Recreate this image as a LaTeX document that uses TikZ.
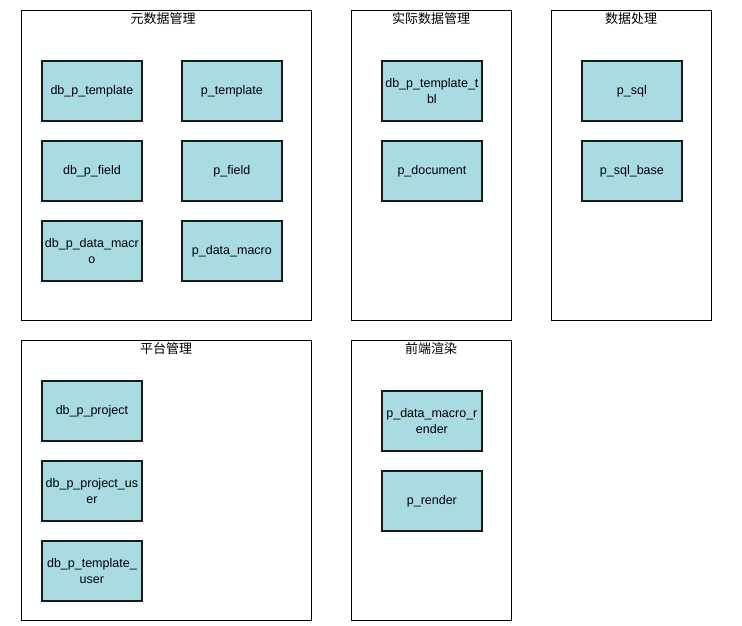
\documentclass[tikz,border=0pt]{standalone}
\usepackage{fontspec}
\setmainfont{Liberation Sans}
\newfontfamily\cjk{Noto Sans CJK SC}
\definecolor{boxfill}{HTML}{A8DCE2}
\definecolor{boxline}{HTML}{1A1A1A}
\begin{document}
\begin{tikzpicture}[x=1pt,y=-1pt,
  group/.style={draw=black,line width=0.8pt,fill=white},
  grouptitle/.style={anchor=north,inner sep=0pt,font=\cjk\fontsize{13}{15}\selectfont},
  tbl/.style={draw=boxline,line width=1.8pt,fill=boxfill,minimum width=100pt,minimum height=60pt,
    inner sep=0pt,align=center,font=\fontsize{12.5}{16.5}\selectfont,anchor=north west}]
\useasboundingbox (0,0) rectangle (742,626);
\fill[white] (0,0) rectangle (742,626);
% groups
\draw[group] (21,10) rectangle (311,320);
\node[grouptitle] (g1) at (163,12) {元数据管理};
\draw[group] (351,10) rectangle (511,320);
\node[grouptitle] (g2) at (431,12) {实际数据管理};
\draw[group] (551,10) rectangle (711,320);
\node[grouptitle] (g3) at (631,12) {数据处理};
\draw[group] (21,340) rectangle (311,620);
\node[grouptitle] (g4) at (166,342) {平台管理};
\draw[group] (351,340) rectangle (511,620);
\node[grouptitle] (g5) at (431,342) {前端渲染};
% group 1
\node[tbl] (a1) at (41,60) {db\_p\_template};
\node[tbl] (a2) at (181,60) {p\_template};
\node[tbl] (a3) at (41,140) {db\_p\_field};
\node[tbl] (a4) at (181,140) {p\_field};
\node[tbl] (a5) at (41,220) {db\_p\_data\_macr\\o};
\node[tbl] (a6) at (181,220) {p\_data\_macro};
% group 2
\node[tbl] (b1) at (381,60) {db\_p\_template\_t\\bl};
\node[tbl] (b2) at (381,140) {p\_document};
% group 3
\node[tbl] (c1) at (581,60) {p\_sql};
\node[tbl] (c2) at (581,140) {p\_sql\_base};
% group 4
\node[tbl] (d1) at (41,380) {db\_p\_project};
\node[tbl] (d2) at (41,460) {db\_p\_project\_us\\er};
\node[tbl] (d3) at (41,540) {db\_p\_template\_\\user};
% group 5
\node[tbl] (e1) at (381,390) {p\_data\_macro\_r\\ender};
\node[tbl] (e2) at (381,470) {p\_render};
\end{tikzpicture}
\end{document}
